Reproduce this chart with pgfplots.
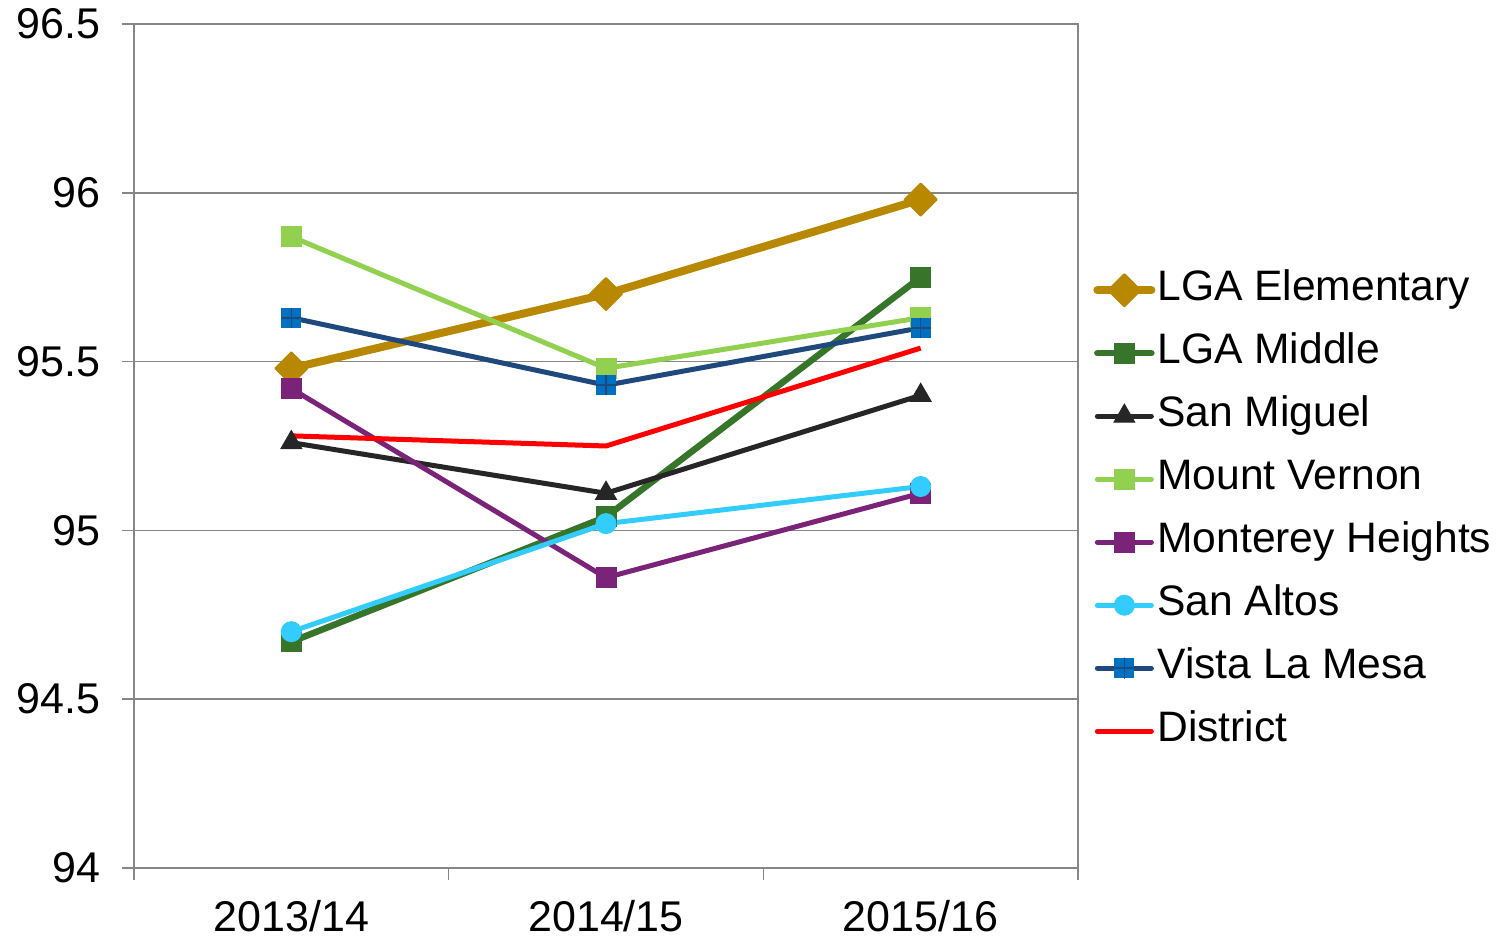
\documentclass[border=0pt]{standalone}
\usepackage{fontspec}
\setmainfont{Liberation Sans}
\usepackage{pgfplots}
\pgfplotsset{compat=1.18}
\definecolor{lgaelem}{RGB}{184,136,0}
\definecolor{lgamid}{RGB}{55,118,42}
\definecolor{sanmig}{RGB}{38,38,38}
\definecolor{mtv}{RGB}{146,208,80}
\definecolor{monh}{RGB}{123,35,120}
\definecolor{sanalt}{RGB}{51,204,255}
\definecolor{vlmline}{RGB}{31,73,125}
\definecolor{vlmfill}{RGB}{0,112,192}
\definecolor{axgray}{RGB}{134,134,134}
\pgfdeclareplotmark{sqplus}{%
  \pgfsetfillcolor{vlmfill}%
  \pgfpathrectangle{\pgfqpoint{-\pgfplotmarksize}{-\pgfplotmarksize}}{\pgfqpoint{2\pgfplotmarksize}{2\pgfplotmarksize}}%
  \pgfusepathqfill
  \pgfpathmoveto{\pgfqpoint{-\pgfplotmarksize}{0pt}}\pgfpathlineto{\pgfqpoint{\pgfplotmarksize}{0pt}}%
  \pgfpathmoveto{\pgfqpoint{0pt}{-\pgfplotmarksize}}\pgfpathlineto{\pgfqpoint{0pt}{\pgfplotmarksize}}%
  \pgfusepathqstroke}
\begin{document}
\begin{tikzpicture}
\begin{axis}[
  scale only axis,
  width=472pt, height=422pt,
  xmin=-0.5, xmax=2.5,
  ymin=94, ymax=96.5,
  ytick={94,94.5,95,95.5,96,96.5},
  xtick={0,1,2},
  xticklabels={2013/14,2014/15,2015/16},
  minor xtick={-0.5,0.5,1.5,2.5},
  tick pos=left,
  tick align=outside,
  major tick length=6pt,
  minor tick length=6pt,
  x tick style={draw=none},
  minor x tick style={draw=axgray, line width=0.75pt},
  y tick style={draw=axgray, line width=0.75pt},
  axis line style={draw=axgray, line width=0.75pt},
  ymajorgrids,
  major grid style={draw=axgray, line width=0.75pt},
  tick label style={font=\fontsize{21.5}{25}\selectfont, text=black},
  yticklabel style={xshift=-7.5pt},
  xticklabel style={yshift=-6.5pt},
  /pgf/number format/assume math mode=true,
  legend cell align=left,
  legend style={draw=none, fill=none, at={(1.0095,0.4233)}, anchor=west,
    font=\fontsize{21.3}{25}\selectfont, row sep=10pt,
    nodes={inner sep=1pt, text height=15pt, text depth=4.5pt}},
  legend image code/.code={\draw[mark repeat=2,mark phase=2,line cap=round] plot coordinates {(0pt,0pt)(13.5pt,0pt)(27pt,0pt)};},
]
\addplot[color=lgaelem, line width=4pt, mark=square*, mark size=5.66pt, mark options={rotate=45, line width=1pt, line join=round}]
  coordinates {(0,95.48) (1,95.70) (2,95.98)};
\addlegendentry{LGA Elementary}
\addplot[color=lgamid, line width=3.25pt, mark=square*, mark size=5pt, mark options={line width=0.5pt}]
  coordinates {(0,94.67) (1,95.04) (2,95.75)};
\addlegendentry{LGA Middle}
\addplot[color=sanmig, line width=2.5pt, mark=triangle*, mark size=6pt, mark options={line width=0.5pt}]
  coordinates {(0,95.26) (1,95.11) (2,95.40)};
\addlegendentry{San Miguel}
\addplot[color=mtv, line width=2.5pt, mark=square*, mark size=5pt, mark options={line width=0.5pt}]
  coordinates {(0,95.87) (1,95.48) (2,95.63)};
\addlegendentry{Mount Vernon}
\addplot[color=monh, line width=2.5pt, mark=square*, mark size=5pt, mark options={line width=0.5pt}]
  coordinates {(0,95.42) (1,94.86) (2,95.11)};
\addlegendentry{Monterey Heights}
\addplot[color=sanalt, line width=2.5pt, mark=*, mark size=5pt, mark options={line width=0.5pt}]
  coordinates {(0,94.70) (1,95.02) (2,95.13)};
\addlegendentry{San Altos}
\addplot[color=vlmline, line width=2.5pt, mark=sqplus, mark size=5pt, mark options={line width=0.8pt}]
  coordinates {(0,95.63) (1,95.43) (2,95.60)};
\addlegendentry{Vista La Mesa}
\addplot[color=red, line width=2.5pt, mark=none]
  coordinates {(0,95.28) (1,95.25) (2,95.54)};
\addlegendentry{District}
\end{axis}
\path ([xshift=-67pt,yshift=-35.5pt]current axis.south west) rectangle ([xshift=211.5pt,yshift=12pt]current axis.north east);
\end{tikzpicture}
\end{document}
